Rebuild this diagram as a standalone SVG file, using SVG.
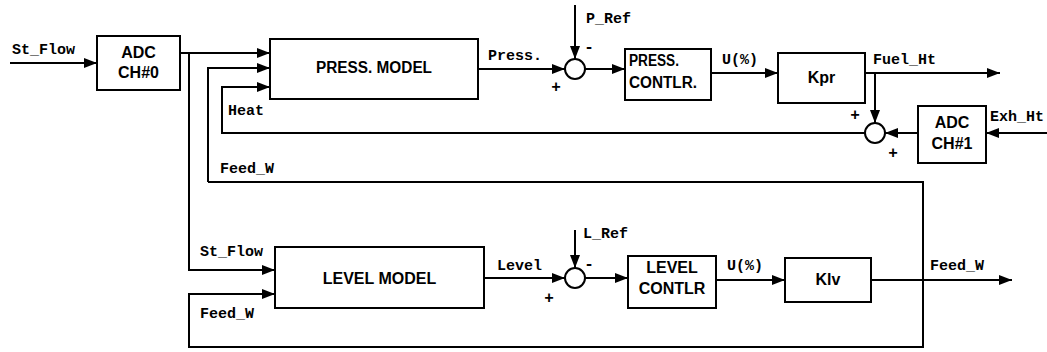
<svg xmlns="http://www.w3.org/2000/svg" width="1047" height="352" viewBox="0 0 1047 352">
<style>
.box{fill:#fff;stroke:#000;stroke-width:2}
.ln{fill:none;stroke:#000;stroke-width:2}
.sum{fill:#fff;stroke:#000;stroke-width:2}
.bt{font-family:"Liberation Sans",Arial,sans-serif;font-weight:bold;font-size:16px;fill:#000}
.lb{font-family:"Liberation Mono","Courier New",monospace;font-weight:bold;font-size:15px;fill:#000}
.sg{font-family:"Liberation Mono","Courier New",monospace;font-weight:bold;font-size:16px;fill:#000;text-anchor:middle}
.c{text-anchor:middle}
</style>
<defs>
<marker id="ah" markerUnits="userSpaceOnUse" markerWidth="14" markerHeight="10" refX="13" refY="5" orient="auto">
<path d="M0,0 L13,5 L0,10 Z" fill="#000"/>
</marker>
</defs>
<g id="connectors">
<path class="ln" d="M10,63 L97,63" marker-end="url(#ah)"/>
<path class="ln" d="M180,53 L270,53" marker-end="url(#ah)"/>
<path class="ln" d="M189,53 L189,270 L275,270" marker-end="url(#ah)"/>
<path class="ln" d="M208,182 L208,68 L270,68" marker-end="url(#ah)"/>
<path class="ln" d="M865,133 L222,133 L222,87 L270,87" marker-end="url(#ah)"/>
<path class="ln" d="M208,182 L923,182 L923,347 L189,347 L189,294 L275,294" marker-end="url(#ah)"/>
<path class="ln" d="M478,69 L565,69" marker-end="url(#ah)"/>
<path class="ln" d="M575,5 L575,59" marker-end="url(#ah)"/>
<path class="ln" d="M585,69 L625,69" marker-end="url(#ah)"/>
<path class="ln" d="M711,73 L778,73" marker-end="url(#ah)"/>
<path class="ln" d="M865,73 L1000,73" marker-end="url(#ah)"/>
<path class="ln" d="M875,73 L875,123" marker-end="url(#ah)"/>
<path class="ln" d="M918,133 L885,133" marker-end="url(#ah)"/>
<path class="ln" d="M1047,133 L986,133" marker-end="url(#ah)"/>
<path class="ln" d="M484,278 L565,278" marker-end="url(#ah)"/>
<path class="ln" d="M575,230 L575,268" marker-end="url(#ah)"/>
<path class="ln" d="M585,278 L628,278" marker-end="url(#ah)"/>
<path class="ln" d="M716,280 L785,280" marker-end="url(#ah)"/>
<path class="ln" d="M871,280 L1012,280" marker-end="url(#ah)"/>
</g>
<g id="labels">
<text class="lb" x="12" y="54">St_Flow</text>
<text class="lb" x="488" y="60">Press.</text>
<text class="lb" x="586" y="23">P_Ref</text>
<text class="lb" x="722" y="64">U(%)</text>
<text class="lb" x="873" y="64">Fuel_Ht</text>
<text class="lb" x="990" y="121">Exh_Ht</text>
<text class="lb" x="228" y="115">Heat</text>
<text class="lb" x="220" y="173">Feed_W</text>
<text class="lb" x="200" y="256">St_Flow</text>
<text class="lb" x="200" y="318">Feed_W</text>
<text class="lb" x="497" y="270">Level</text>
<text class="lb" x="583" y="238">L_Ref</text>
<text class="lb" x="727" y="270">U(%)</text>
<text class="lb" x="930" y="270">Feed_W</text>
<text class="sg" x="589" y="52">-</text>
<text class="sg" x="556" y="92">+</text>
<text class="sg" x="855" y="120">+</text>
<text class="sg" x="893" y="158">+</text>
<text class="sg" x="589" y="269">-</text>
<text class="sg" x="549" y="303">+</text>
</g>
<g id="adc0">
<rect class="box" x="97" y="36" width="83" height="54"/>
<text class="bt c" x="138.5" y="58">ADC</text>
<text class="bt c" x="138.5" y="78">CH#0</text>
</g>
<g id="press-model">
<rect class="box" x="270" y="39" width="208" height="60"/>
<text class="bt c" x="374" y="73" textLength="116" lengthAdjust="spacingAndGlyphs">PRESS. MODEL</text>
</g>
<g id="sum-press">
<circle class="sum" cx="575" cy="69" r="10"/>
</g>
<g id="press-contlr">
<rect class="box" x="625" y="49" width="86" height="51"/>
<text class="bt" x="629" y="66" textLength="50" lengthAdjust="spacingAndGlyphs">PRESS.</text>
<text class="bt" x="629" y="88" textLength="68" lengthAdjust="spacingAndGlyphs">CONTLR.</text>
</g>
<g id="kpr">
<rect class="box" x="778" y="53" width="87" height="50"/>
<text class="bt c" x="821.5" y="83">Kpr</text>
</g>
<g id="sum-heat">
<circle class="sum" cx="875" cy="133" r="10"/>
</g>
<g id="adc1">
<rect class="box" x="918" y="106" width="68" height="57"/>
<text class="bt c" x="952" y="128">ADC</text>
<text class="bt c" x="952" y="149">CH#1</text>
</g>
<g id="level-model">
<rect class="box" x="275" y="247" width="209" height="61"/>
<text class="bt c" x="379.5" y="284">LEVEL MODEL</text>
</g>
<g id="sum-level">
<circle class="sum" cx="575" cy="278" r="10"/>
</g>
<g id="level-contlr">
<rect class="box" x="628" y="256" width="88" height="52"/>
<text class="bt c" x="672" y="273">LEVEL</text>
<text class="bt c" x="672" y="294">CONTLR</text>
</g>
<g id="klv">
<rect class="box" x="785" y="258" width="86" height="44"/>
<text class="bt c" x="828" y="285">Klv</text>
</g>
</svg>
